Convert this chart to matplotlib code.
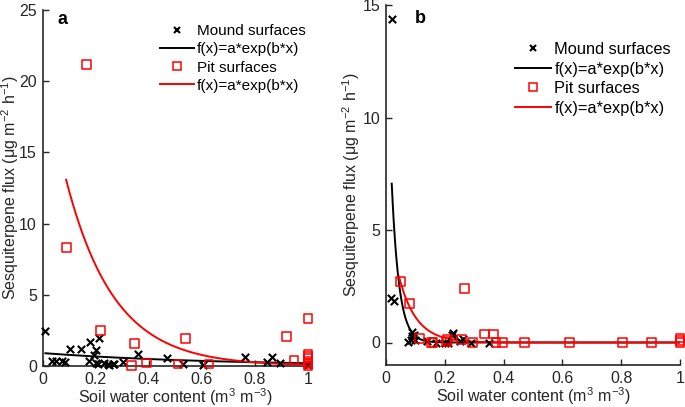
import numpy as np
import matplotlib
matplotlib.use("Agg")
import matplotlib.pyplot as plt
from matplotlib.lines import Line2D

plt.rcParams['font.family'] = ['Liberation Sans', 'DejaVu Sans']
plt.rcParams['mathtext.default'] = 'regular'

# ---------------- Panel a data ----------------
a_mound_x = [0.011, 0.036, 0.049, 0.074, 0.083, 0.103, 0.145, 0.174, 0.18, 0.195, 0.203, 0.20,
             0.212, 0.21, 0.232, 0.245, 0.25, 0.264, 0.27, 0.305, 0.36, 0.469, 0.53, 0.605,
             0.763, 0.845, 0.864, 0.895, 1.0]
a_mound_y = [2.47, 0.37, 0.37, 0.37, 0.25, 1.19, 1.17, 0.37, 1.66, 0.77, 1.14, 0.18,
             1.96, 0.15, 0.2, 0.12, 0.1, 0.15, 0.15, 0.3, 0.84, 0.56, 0.14, 0.1,
             0.65, 0.3, 0.63, 0.18, 0.1]
a_pit_x = [0.089, 0.166, 0.218, 0.335, 0.346, 0.391, 0.51, 0.54, 0.627, 0.92, 0.947,
           1.0, 1.0, 1.0, 1.0, 1.0, 1.0, 1.0]
a_pit_y = [8.3, 21.2, 2.47, 0.05, 1.59, 0.21, 0.14, 1.94, 0.14, 2.08, 0.42,
           3.34, 0.8, 0.65, 0.5, 0.3, 0.15, 0.0]
# fitted exponential parameters f(x)=a*exp(b*x) and x-range of each fit
a_mound_fit = (0.91, -1.55, 0.011, 1.0)
a_pit_fit = (21.4, -5.53, 0.089, 1.0)

# ---------------- Panel b data ----------------
b_mound_x = [0.019, 0.016, 0.027, 0.076, 0.085, 0.088, 0.09, 0.092, 0.095, 0.1, 0.141, 0.17,
             0.2, 0.21, 0.224, 0.229, 0.25, 0.263, 0.29, 0.35]
b_mound_y = [14.4, 2.0, 1.85, 0.03, 0.1, 0.45, 0.3, 0.2, 0.35, 0.1, 0.05, 0.0,
             0.0, 0.0, 0.32, 0.41, 0.05, 0.15, 0.0, 0.0]
b_pit_x = [0.048, 0.08, 0.115, 0.155, 0.16, 0.205, 0.21, 0.256, 0.268, 0.295, 0.334, 0.366,
           0.374, 0.397, 0.472, 0.623, 0.805, 0.904, 1.0, 1.0, 1.0]
b_pit_y = [2.71, 1.75, 0.18, 0.0, 0.0, 0.05, 0.15, 0.15, 2.41, 0.0, 0.38, 0.38,
           0.0, 0.0, 0.0, 0.0, 0.0, 0.0, 0.2, 0.1, 0.0]
b_mound_fit = (15.4, -40.0, 0.0195, 1.0)
b_pit_fit = (6.2, -17.0, 0.044, 1.0)

x_ticks = [0, 0.2, 0.4, 0.6, 0.8, 1]
x_ticklabels = ['0', '0.2', '0.4', '0.6', '0.8', '1']

W, H = 685, 407
fig = plt.figure(figsize=(W / 100, H / 100), dpi=100)

def px_rect(l, r, t, b):
    return [l / W, (H - b) / H, (r - l) / W, (b - t) / H]

L1, R1 = 42.5, 308
L2, R2 = 386, 680
ax1 = fig.add_axes(px_rect(L1, R1, 10, 366))
ax2 = fig.add_axes(px_rect(L2, R2, 5, 365))

dark = '#262626'
red = '#ff0000'

def draw_fit(ax, fit, color):
    a, b, x0, x1 = fit
    xs = np.linspace(x0, x1, 300)
    ax.plot(xs, a * np.exp(b * xs), color=color, lw=1.4, zorder=3)

def style(ax, ylim, yticks, ylab_px, left, right):
    ax.set_xlim(0, 1)
    ax.set_ylim(*ylim)
    ax.set_xticks(x_ticks)
    ax.set_xticklabels(x_ticklabels)
    ax.set_yticks(yticks)
    for s in ['top', 'right']:
        ax.spines[s].set_visible(False)
    for s in ['left', 'bottom']:
        ax.spines[s].set_color(dark)
        ax.spines[s].set_linewidth(1.2)
    ax.tick_params(direction='in', length=4, width=1, colors=dark, labelsize=11.5, pad=4)
    ax.set_xlabel('Soil water content (m$^3$ m$^{-3}$)', fontsize=11.5, color=dark, labelpad=0)
    ax.set_ylabel('Sesquiterpene flux (μg m$^{-2}$ h$^{-1}$)', fontsize=11.5, color=dark)
    ax.yaxis.label.set_verticalalignment('center')
    ax.yaxis.set_label_coords((ylab_px - left) / (right - left), 0.5)

# Panel a
ax1.scatter(a_mound_x, a_mound_y, marker='x', s=28, color='black', linewidths=1.5, zorder=4, clip_on=False)
draw_fit(ax1, a_mound_fit, 'black')
ax1.scatter(a_pit_x, a_pit_y, marker='s', s=40, facecolors='none', edgecolors=red, linewidths=1.1, zorder=4, clip_on=False)
draw_fit(ax1, a_pit_fit, red)
style(ax1, (0, 25), [0, 5, 10, 15, 20, 25], 10, L1, R1)

# Panel b
ax2.scatter(b_mound_x, b_mound_y, marker='x', s=28, color='black', linewidths=1.5, zorder=4, clip_on=False)
draw_fit(ax2, b_mound_fit, 'black')
ax2.scatter(b_pit_x, b_pit_y, marker='s', s=40, facecolors='none', edgecolors=red, linewidths=1.1, zorder=4, clip_on=False)
draw_fit(ax2, b_pit_fit, red)
style(ax2, (-1, 15), [0, 5, 10, 15], 351, L2, R2)

fig.text(57 / W, 1 - 19 / H, 'a', fontsize=13, fontweight='bold', va='center', ha='left')
fig.text(415 / W, 1 - 18.5 / H, 'b', fontsize=13, fontweight='bold', va='center', ha='left')

def make_handles():
    return [
        Line2D([], [], marker='x', ls='none', color='black', markersize=5, mew=1.5),
        Line2D([], [], color='black', lw=1.4),
        Line2D([], [], marker='s', ls='none', markerfacecolor='none', markeredgecolor=red, markersize=6, mew=1.1),
        Line2D([], [], color=red, lw=1.4),
    ]
labels = ['Mound surfaces', 'f(x)=a*exp(b*x)', 'Pit surfaces', 'f(x)=a*exp(b*x)']

leg1 = ax1.legend(make_handles(), labels, loc='upper left', bbox_to_anchor=(160 / W, 1 - 24 / H),
                  bbox_transform=fig.transFigure, frameon=False, fontsize=11,
                  handlelength=2.2, handletextpad=0.2, labelspacing=0.28, borderpad=0, borderaxespad=0)
leg2 = ax2.legend(make_handles(), labels, loc='upper left', bbox_to_anchor=(515 / W, 1 - 42 / H),
                  bbox_transform=fig.transFigure, frameon=False, fontsize=11.8,
                  handlelength=2.2, handletextpad=0.2, labelspacing=0.28, borderpad=0, borderaxespad=0)

fig.savefig('out.png', dpi=100)
